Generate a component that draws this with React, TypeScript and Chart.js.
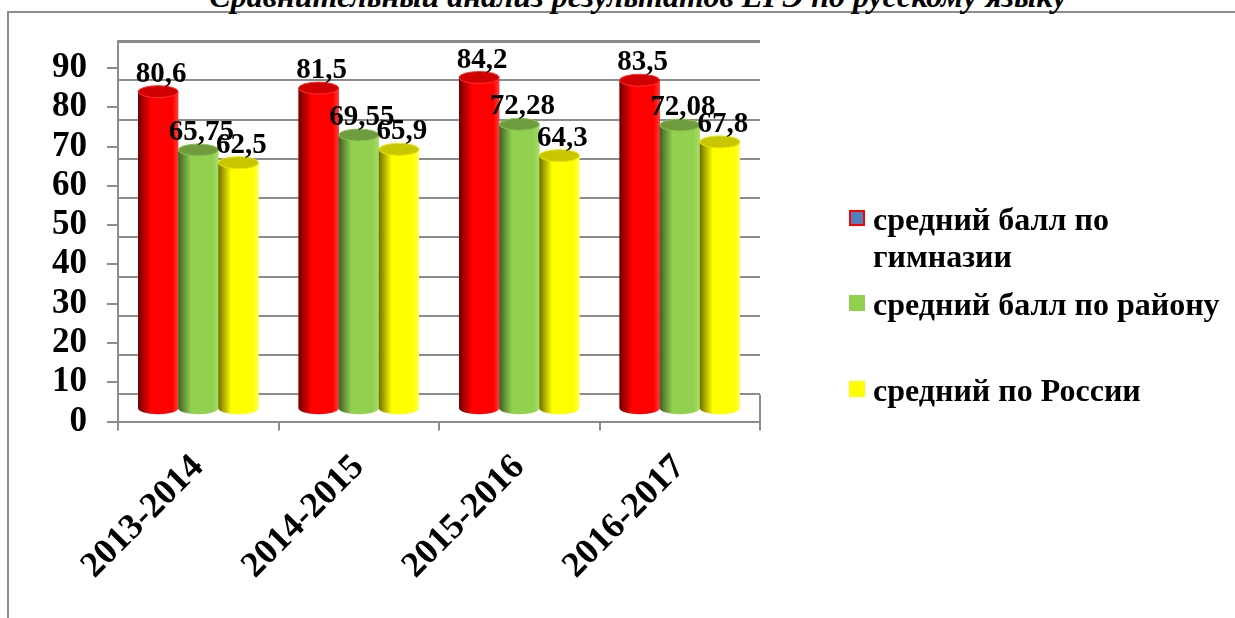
import React, { useEffect, useRef } from "react";
import { Chart, registerables } from "chart.js";

Chart.register(...registerables);

const TITLE = "Сравнительный анализ результатов ЕГЭ по русскому языку";
const categories = ["2013-2014", "2014-2015", "2015-2016", "2016-2017"];
const seriesNames = ["средний балл по гимназии", "средний балл по району", "средний по России"];
const gymnasium = [80.6, 81.5, 84.2, 83.5];
const district = [65.75, 69.55, 72.28, 72.08];
const russia = [62.5, 65.9, 64.3, 67.8];
const yTickValues = [0, 10, 20, 30, 40, 50, 60, 70, 80, 90];

const FONT = "'Liberation Serif', 'Times New Roman', serif";
const GRID = "#8c8c8c";

const looks = [
  { body: "#ff0000", dark: "#6e0000", light: "#ff3a3a", top: "#d00000", rim: "#ff3030", legendFill: "#4f81bd", legendBorder: "#ff0000" },
  { body: "#92d050", dark: "#3f5f22", light: "#a6de6a", top: "#6e9c3e", rim: "#8cc452", legendFill: "#92d050", legendBorder: "#92d050" },
  { body: "#ffff00", dark: "#6e6e00", light: "#ffff60", top: "#c8c600", rim: "#e6e400", legendFill: "#ffff00", legendBorder: "#ffff00" },
];

const seriesValues = [gymnasium, district, russia];

const fmt = (v: number) => String(v).replace(".", ",");

const cylinderPlugin = {
  id: "cylinders",
  beforeDatasetsDraw(chart: any) {
    const { ctx, chartArea, scales } = chart;
    const y0Back = scales.yw.getPixelForValue(0);
    const y0Front = scales.y.getPixelForValue(0);
    ctx.save();
    ctx.strokeStyle = GRID;
    ctx.lineWidth = 2;
    ctx.beginPath();
    ctx.moveTo(chartArea.right, y0Back);
    ctx.lineTo(chartArea.right, y0Front);
    ctx.stroke();
    ctx.restore();
  },
  afterDatasetsDraw(chart: any) {
    const { ctx } = chart;
    const ry = 6;
    chart.data.datasets.forEach((ds: any, di: number) => {
      const meta = chart.getDatasetMeta(di);
      const look = looks[di];
      meta.data.forEach((el: any) => {
        const { x, y, base, width } = el.getProps(["x", "y", "base", "width"], true);
        const rx = width / 2;
        const left = x - rx;
        const right = x + rx;
        ctx.save();
        const g = ctx.createLinearGradient(left, 0, right, 0);
        g.addColorStop(0, look.dark);
        g.addColorStop(0.32, look.body);
        g.addColorStop(0.85, look.body);
        g.addColorStop(1, look.light);
        ctx.fillStyle = g;
        ctx.beginPath();
        ctx.moveTo(left, y);
        ctx.lineTo(left, base);
        ctx.ellipse(x, base, rx, ry, 0, Math.PI, 0, true);
        ctx.lineTo(right, y);
        ctx.closePath();
        ctx.fill();
        ctx.beginPath();
        ctx.ellipse(x, y, rx, ry, 0, 0, Math.PI * 2);
        ctx.fillStyle = look.top;
        ctx.fill();
        ctx.lineWidth = 1;
        ctx.strokeStyle = look.rim;
        ctx.stroke();
        ctx.restore();
      });
    });
    ctx.save();
    ctx.fillStyle = "#000";
    ctx.font = `bold 29px ${FONT}`;
    ctx.textAlign = "center";
    ctx.textBaseline = "alphabetic";
    chart.data.datasets.forEach((ds: any, di: number) => {
      const meta = chart.getDatasetMeta(di);
      meta.data.forEach((el: any, i: number) => {
        const { x, y } = el.getProps(["x", "y"], true);
        ctx.fillText(fmt(ds.data[i]), x + 3, y - 10);
      });
    });
    ctx.restore();
  },
};

export default function App() {
  const ref = useRef<HTMLCanvasElement | null>(null);

  useEffect(() => {
    if (!ref.current) return;
    const chart = new Chart(ref.current, {
      type: "bar",
      data: {
        labels: categories,
        datasets: seriesNames.map((name, i) => ({
          label: name,
          data: seriesValues[i],
          backgroundColor: looks[i].body,
          borderWidth: 0,
          yAxisID: "yb",
          categoryPercentage: 0.75,
          barPercentage: 1,
        })),
      },
      options: {
        responsive: false,
        animation: false,
        layout: { padding: { left: 0, top: 41, right: 475, bottom: 0 } },
        plugins: {
          legend: { display: false },
          tooltip: { enabled: false },
          title: { display: false },
        },
        scales: {
          x: {
            type: "category",
            offset: true,
            grid: {
              offset: true,
              drawOnChartArea: false,
              drawTicks: true,
              tickLength: 9,
              color: GRID,
              lineWidth: 2,
            },
            border: { display: true, color: GRID, width: 2 },
            ticks: {
              color: "#000",
              font: { family: FONT, weight: "bold", size: 36 },
              maxRotation: 45,
              minRotation: 45,
              autoSkip: false,
              padding: 16,
            },
            afterFit: (s: any) => {
              s.height = 618 - 421.5;
            },
          },
          yw: {
            position: "left",
            min: -6.9,
            max: 90,
            display: true,
            afterBuildTicks: (s: any) => {
              s.ticks = yTickValues.map((v) => ({ value: v }));
            },
            ticks: { display: false, autoSkip: false },
            grid: {
              drawTicks: false,
              color: GRID,
              lineWidth: (c: any) => (c.tick && c.tick.value === 90 ? 3 : 2),
            },
            border: { display: false },
            afterFit: (s: any) => {
              s.width = 0;
            },
          },
          y: {
            position: "left",
            min: 0,
            max: 96.9,
            afterBuildTicks: (s: any) => {
              s.ticks = yTickValues.map((v) => ({ value: v }));
            },
            ticks: {
              color: "#000",
              font: { family: FONT, weight: "bold", size: 35 },
              padding: 20,
              autoSkip: false,
            },
            grid: {
              drawOnChartArea: false,
              drawTicks: true,
              tickLength: 11,
              color: GRID,
              lineWidth: 2,
            },
            border: { display: true, color: GRID, width: 2 },
            afterFit: (s: any) => {
              s.width = 118;
            },
          },
          yb: {
            display: false,
            min: -3.4,
            max: 93.5,
          },
        },
      },
      plugins: [cylinderPlugin],
    } as any);
    return () => chart.destroy();
  }, []);

  return (
    <div style={{ position: "absolute", left: 0, top: 0, width: 1235, height: 618, overflow: "hidden", background: "#fff" }}>
      <div
        style={{
          position: "absolute",
          left: 7,
          top: 11,
          width: 1400,
          height: 800,
          border: `2px solid ${GRID}`,
        }}
      />
      <div
        style={{
          position: "absolute",
          left: 0,
          top: -20,
          width: 1276,
          textAlign: "center",
          fontFamily: FONT,
          fontWeight: "bold",
          fontStyle: "italic",
          fontSize: 32,
          lineHeight: "32px",
          whiteSpace: "nowrap",
          color: "#000",
        }}
      >
        {TITLE}
      </div>
      <canvas ref={ref} width={1235} height={618} style={{ position: "absolute", left: 0, top: 0, width: 1235, height: 618 }} />
      {seriesNames.map((name, i) => (
        <div
          key={name}
          style={{
            position: "absolute",
            left: 849,
            top: [201, 286, 372][i],
            display: "flex",
            alignItems: "flex-start",
          }}
        >
          <div
            style={{
              width: 16,
              height: 16,
              marginTop: 9,
              boxSizing: "border-box",
              background: looks[i].legendFill,
              border: `2px solid ${looks[i].legendBorder}`,
              flex: "0 0 auto",
            }}
          />
          <div
            style={{
              marginLeft: 8,
              width: 352,
              fontFamily: FONT,
              fontWeight: "bold",
              fontSize: 32,
              lineHeight: "37px",
              color: "#000",
            }}
          >
            {name}
          </div>
        </div>
      ))}
    </div>
  );
}
